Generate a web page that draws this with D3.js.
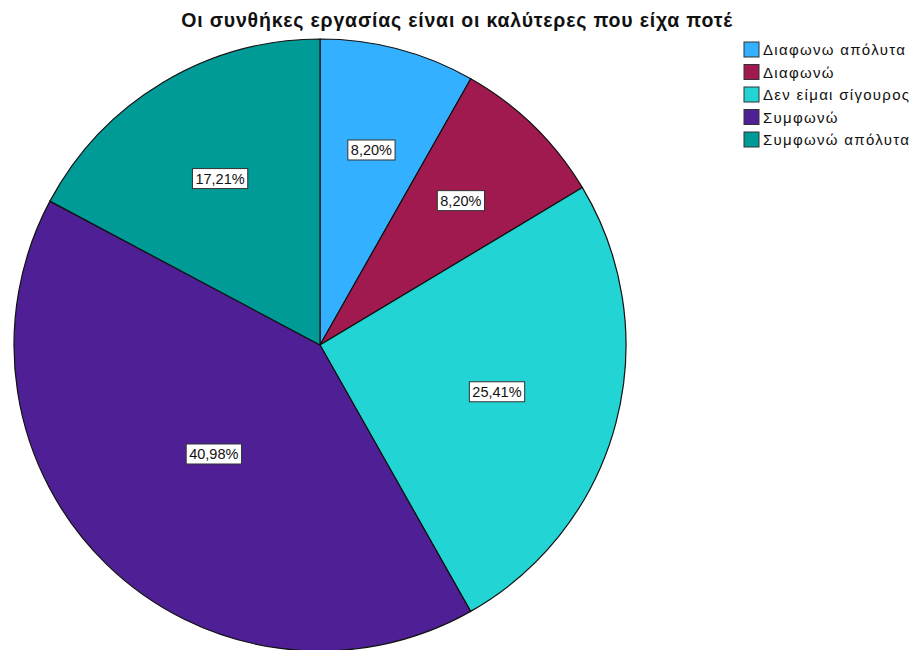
<!DOCTYPE html>
<html>
<head>
<meta charset="utf-8">
<script src="https://cdn.jsdelivr.net/npm/d3@7"></script>
<style>
  body { margin: 0; background: #fff; }
  svg { display: block; font-family: Arial, "Liberation Sans", sans-serif; }
</style>
</head>
<body>
<div id="chart"></div>
<script>
// data
var categories = ['Διαφωνω απόλυτα', 'Διαφωνώ', 'Δεν είμαι σίγουρος', 'Συμφωνώ', 'Συμφωνώ απόλυτα'];
var percents = [8.20, 8.20, 25.41, 40.98, 17.21];
var colors = ['#33b0ff', '#a0194f', '#22d4d4', '#4f2095', '#009b97'];
var title = 'Οι συνθήκες εργασίας είναι οι καλύτερες που είχα ποτέ';

var width = 913, height = 650;
var cx = 320, cy = 345, radius = 306;

var svg = d3.select('#chart').append('svg').attr('width', width).attr('height', height);

svg.append('text')
  .attr('x', 457)
  .attr('y', 27)
  .attr('text-anchor', 'middle')
  .attr('font-size', '19.5px')
  .attr('font-weight', 'bold')
  .attr('letter-spacing', '0.8px')
  .attr('fill', '#111')
  .text(title);

var color = d3.scaleOrdinal().domain(categories).range(colors);

var pie = d3.pie().sort(null).value(function(d) { return d.value; });
var arc = d3.arc().innerRadius(0).outerRadius(radius);

var data = categories.map(function(c, i) { return {name: c, value: percents[i]}; });
var arcs = pie(data);

var g = svg.append('g').attr('transform', 'translate(' + cx + ',' + cy + ')');

g.selectAll('path.slice')
  .data(arcs)
  .enter()
  .append('path')
  .attr('class', 'slice')
  .attr('d', arc)
  .attr('fill', function(d) { return color(d.data.name); })
  .attr('stroke', '#111')
  .attr('stroke-width', 1.2);

// labels sit at each sector's centre of mass
function labelPos(d) {
  var half = (d.endAngle - d.startAngle) / 2;
  var mid = d.startAngle + half;
  var r = 2 * radius * Math.sin(half) / (3 * half);
  return [Math.sin(mid) * r, -Math.cos(mid) * r];
}

var fmt = function(v) { return v.toFixed(2).replace('.', ',') + '%'; };

var labels = g.selectAll('g.lbl')
  .data(arcs)
  .enter()
  .append('g')
  .attr('class', 'lbl')
  .attr('transform', function(d) { var p = labelPos(d); return 'translate(' + p[0] + ',' + p[1] + ')'; });

labels.append('text')
  .attr('text-anchor', 'middle')
  .attr('dy', '0.35em')
  .attr('font-size', '14.5px')
  .attr('fill', '#111')
  .text(function(d) { return fmt(d.data.value); });

labels.each(function() {
  var grp = d3.select(this);
  var bb = grp.select('text').node().getBBox();
  grp.insert('rect', 'text')
    .attr('x', bb.x - 3)
    .attr('y', bb.y - 2)
    .attr('width', bb.width + 6)
    .attr('height', bb.height + 4)
    .attr('fill', '#fff')
    .attr('stroke', '#333')
    .attr('stroke-width', 1);
});

// legend
var legend = svg.append('g').attr('transform', 'translate(744,42)');
var items = legend.selectAll('g')
  .data(categories)
  .enter()
  .append('g')
  .attr('transform', function(d, i) { return 'translate(0,' + (i * 22.5) + ')'; });

items.append('rect')
  .attr('width', 15)
  .attr('height', 15)
  .attr('fill', function(d) { return color(d); })
  .attr('stroke', '#333')
  .attr('stroke-width', 1);

items.append('text')
  .attr('x', 19)
  .attr('y', 13)
  .attr('font-size', '15px')
  .attr('letter-spacing', '1.3px')
  .attr('fill', '#111')
  .text(function(d) { return d; });
</script>
</body>
</html>
